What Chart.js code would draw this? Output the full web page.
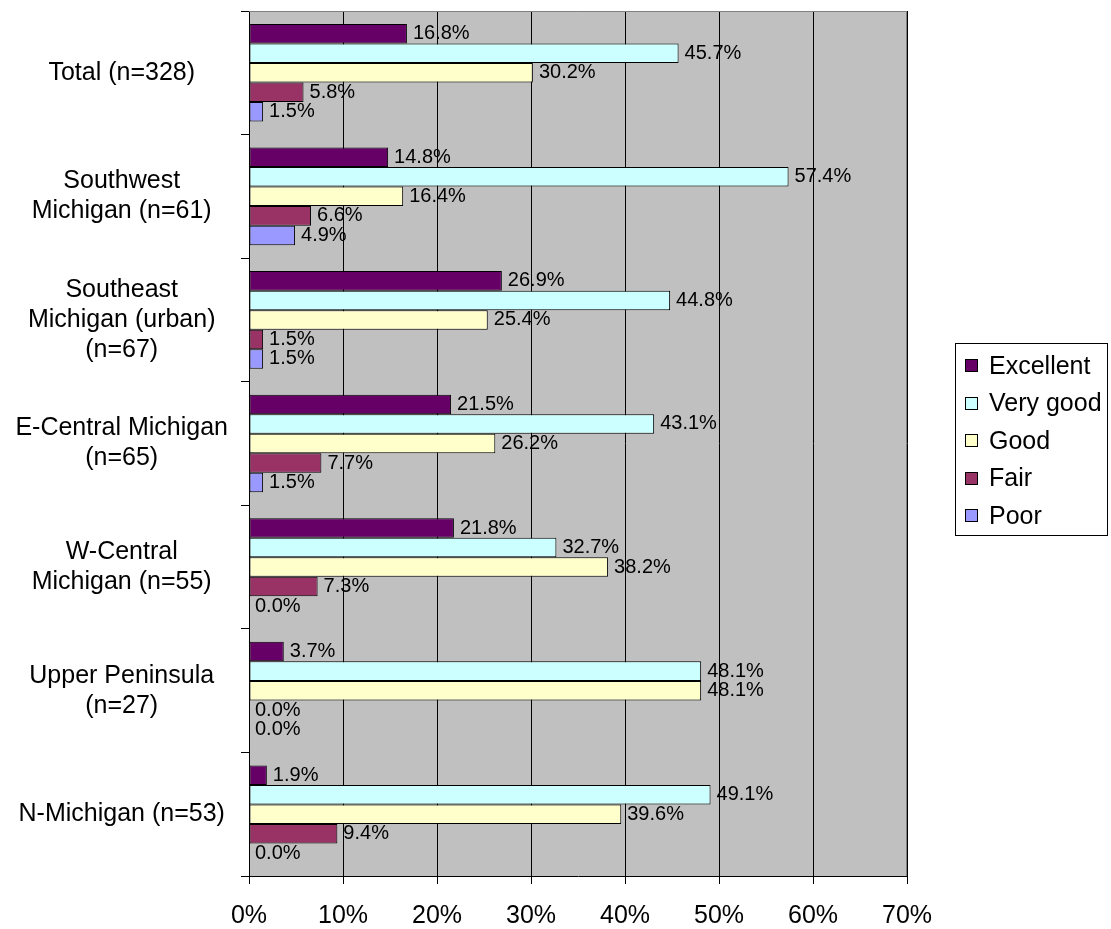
<!DOCTYPE html>
<html>
<head>
<meta charset="utf-8">
<script src="https://cdn.jsdelivr.net/npm/chart.js@4/dist/chart.umd.min.js"></script>
<style>
	html, body {margin: 0; padding: 0; background: #fff;}
	#wrap {width: 1111px; height: 929px;}
</style>
</head>
<body>
<div id="wrap"><canvas id="ratingChart" width="1111" height="929"></canvas></div>
<script>
// regions (y axis categories)
var regions = [
	"Total (n=328)",
	["Southwest", "Michigan (n=61)"],
	["Southeast", "Michigan (urban)", "(n=67)"],
	["E-Central Michigan", "(n=65)"],
	["W-Central", "Michigan (n=55)"],
	["Upper Peninsula", "(n=27)"],
	"N-Michigan (n=53)"
];
var seriesNames = ["Excellent", "Very good", "Good", "Fair", "Poor"];
var excellent = [16.8, 14.8, 26.9, 21.5, 21.8, 3.7, 1.9];
var veryGood  = [45.7, 57.4, 44.8, 43.1, 32.7, 48.1, 49.1];
var good      = [30.2, 16.4, 25.4, 26.2, 38.2, 48.1, 39.6];
var fair      = [5.8, 6.6, 1.5, 7.7, 7.3, 0.0, 9.4];
var poor      = [1.5, 4.9, 1.5, 1.5, 0.0, 0.0, 0.0];
var xTicks = [0, 10, 20, 30, 40, 50, 60, 70];

var seriesData = [excellent, veryGood, good, fair, poor];
var barColor = ["#660066", "#CCFFFF", "#FFFFCC", "#993366", "#9999FF"];
var fontFamily = "'Liberation Sans', Arial, sans-serif";

var datasets = [];
for (var i = 0; i < seriesNames.length; i++) {
	datasets.push({
		label: seriesNames[i],
		data: seriesData[i],
		backgroundColor: barColor[i],
		borderColor: "#000",
		borderWidth: function(ctx) { return ctx.raw === 0 ? 0 : 1; },
		borderSkipped: false,
		categoryPercentage: 0.79,
		barPercentage: 1.0
	});
}

// gray plot background + border
var plotBackground = {
	id: "plotBackground",
	beforeDraw: function(chart) {
		var a = chart.chartArea, c = chart.ctx;
		c.save();
		c.fillStyle = "#C0C0C0";
		c.fillRect(a.left, a.top, a.right - a.left, a.bottom - a.top);
		c.restore();
	},
	beforeDatasetsDraw: function(chart) {
		var a = chart.chartArea, c = chart.ctx;
		c.save();
		c.strokeStyle = "#808080";
		c.lineWidth = 1;
		c.beginPath();
		c.moveTo(a.left, a.top + 0.5);
		c.lineTo(a.right - 0.5, a.top + 0.5);
		c.lineTo(a.right - 0.5, a.bottom);
		c.stroke();
		c.restore();
	}
};

// value labels at bar ends
var valueLabels = {
	id: "valueLabels",
	afterDatasetsDraw: function(chart) {
		var c = chart.ctx;
		c.save();
		c.font = "20px " + fontFamily;
		c.fillStyle = "#000";
		c.textAlign = "left";
		c.textBaseline = "middle";
		chart.data.datasets.forEach(function(ds, di) {
			var meta = chart.getDatasetMeta(di);
			meta.data.forEach(function(bar, j) {
				c.fillText(ds.data[j].toFixed(1) + "%", bar.x + 6, bar.y);
			});
		});
		c.restore();
	}
};

// boxed legend on the right
var boxLegend = {
	id: "boxLegend",
	afterDraw: function(chart) {
		var c = chart.ctx;
		c.save();
		c.strokeStyle = "#000";
		c.lineWidth = 1;
		c.strokeRect(955.5, 343.5, 152, 192);
		c.font = "25px " + fontFamily;
		c.textBaseline = "middle";
		c.textAlign = "left";
		chart.data.datasets.forEach(function(ds, i) {
			var cy = 366 + i * 37.5;
			c.fillStyle = ds.backgroundColor;
			c.fillRect(965.5, Math.round(cy) - 6.5, 12, 12);
			c.strokeRect(965.5, Math.round(cy) - 6.5, 12, 12);
			c.fillStyle = "#000";
			c.fillText(ds.label, 989, cy + 1);
		});
		c.restore();
	}
};

new Chart(document.getElementById("ratingChart"), {
	type: "bar",
	data: {
		labels: regions,
		datasets: datasets
	},
	options: {
		indexAxis: "y",
		responsive: false,
		animation: false,
		layout: {padding: {top: 11, right: 204, bottom: 0, left: 0}},
		plugins: {
			legend: {display: false},
			tooltip: {enabled: false}
		},
		scales: {
			x: {
				min: 0,
				max: 70,
				afterBuildTicks: function(scale) {
					scale.ticks = xTicks.map(function(v) { return {value: v}; });
				},
				ticks: {
					callback: function(v) { return v + "%"; },
					font: {size: 25, family: fontFamily},
					color: "#000",
					padding: 17,
					maxRotation: 0
				},
				grid: {color: "#000", lineWidth: 1, tickLength: 8},
				border: {color: "#000"},
				afterFit: function(scale) {
					scale.height = 53;
					scale.paddingLeft = 0;
					scale.paddingRight = 0;
				}
			},
			y: {
				grid: {drawOnChartArea: false, offset: true, color: "#000", tickLength: 8},
				border: {color: "#000"},
				ticks: {
					font: {size: 25, family: fontFamily},
					color: "#000",
					crossAlign: "center",
					padding: 13
				},
				afterFit: function(scale) {
					scale.width = 249;
					scale.paddingTop = 0;
					scale.paddingBottom = 0;
				}
			}
		}
	},
	plugins: [plotBackground, valueLabels, boxLegend]
});
</script>
</body>
</html>
